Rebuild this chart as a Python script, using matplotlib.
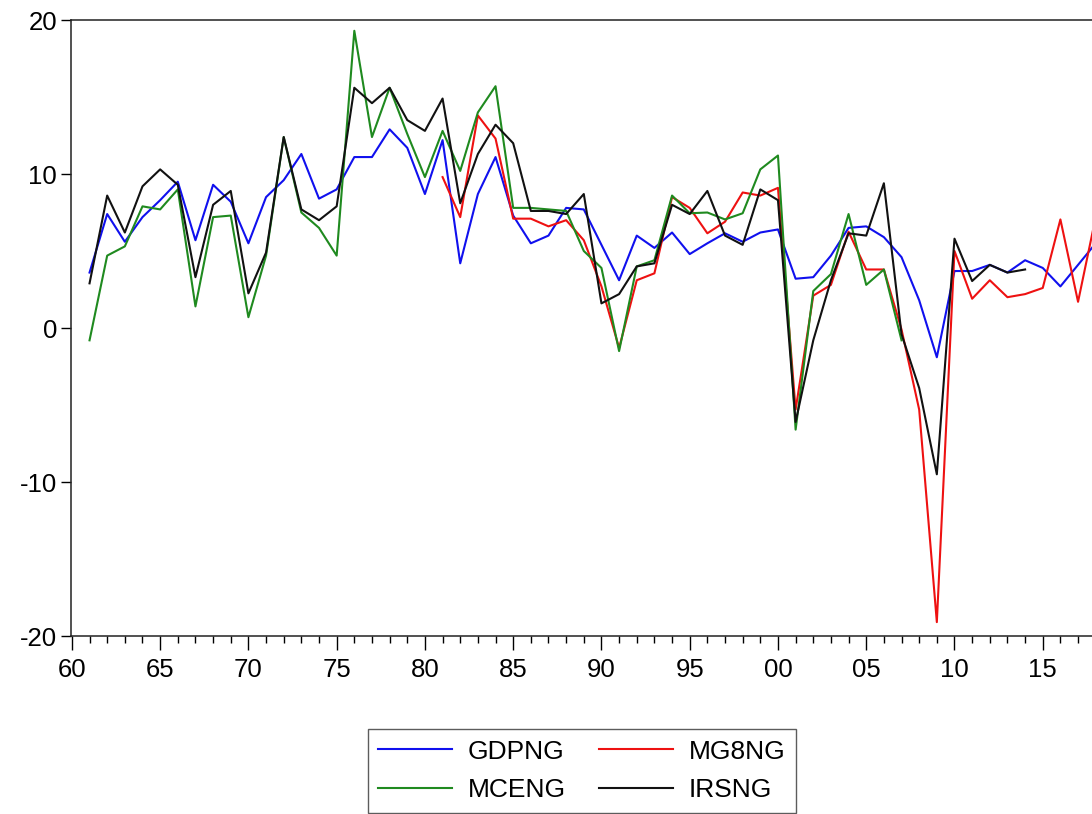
import numpy as np
import matplotlib
matplotlib.use("Agg")
import matplotlib.pyplot as plt
from matplotlib.ticker import MultipleLocator, FuncFormatter

plt.rcParams['font.family'] = ['Liberation Sans', 'DejaVu Sans']
plt.rcParams['axes.unicode_minus'] = False

# ---------------- data (annual growth, %) ----------------
years_gdp = list(range(1961, 2019))
gdpng = [3.6, 7.4, 5.6, 7.2, 8.3, 9.5, 5.7, 9.3, 8.2, 5.5,
         8.5, 9.6, 11.3, 8.4, 9.0, 11.1, 11.1, 12.9, 11.7, 8.7,
         12.2, 4.2, 8.7, 11.1, 7.3, 5.5, 6.0, 7.8, 7.7, 5.4,
         3.1, 6.0, 5.2, 6.2, 4.8, 5.5, 6.15, 5.6, 6.2, 6.4,
         3.2, 3.3, 4.7, 6.5, 6.6, 5.9, 4.6, 1.8, -1.9, 3.7,
         3.7, 4.1, 3.6, 4.4, 3.9, 2.7, 4.1, 5.5]

years_mg8 = list(range(1981, 2019))
mg8ng = [9.8, 7.2, 13.8, 12.3, 7.1, 7.1, 6.6, 7.0, 5.7, 2.7,
         -1.3, 3.1, 3.55, 8.5, 7.8, 6.15, 6.9, 8.8, 8.6, 9.1,
         -5.3, 2.1, 2.8, 6.25, 3.8, 3.8, -0.1, -5.3, -19.1, 5.0,
         1.9, 3.1, 2.0, 2.2, 2.6, 7.05, 1.7, 7.2]

years_mce = list(range(1961, 2008))
mceng = [-0.8, 4.7, 5.3, 7.9, 7.7, 9.0, 1.4, 7.2, 7.3, 0.7,
         4.7, 12.4, 7.5, 6.5, 4.7, 19.3, 12.4, 15.6, 12.6, 9.8,
         12.8, 10.2, 14.0, 15.7, 7.8, 7.8, 7.7, 7.6, 5.0, 3.9,
         -1.5, 4.0, 4.4, 8.6, 7.45, 7.5, 7.05, 7.45, 10.3, 11.2,
         -6.6, 2.4, 3.5, 7.4, 2.8, 3.8, -0.8]

years_irs = list(range(1961, 2015))
irsng = [2.9, 8.6, 6.2, 9.2, 10.3, 9.3, 3.3, 8.0, 8.9, 2.25,
         4.9, 12.4, 7.7, 7.0, 7.9, 15.6, 14.6, 15.6, 13.5, 12.8,
         14.9, 8.1, 11.3, 13.2, 12.0, 7.6, 7.6, 7.4, 8.7, 1.6,
         2.2, 4.0, 4.2, 8.0, 7.4, 8.9, 6.0, 5.4, 9.0, 8.3,
         -6.1, -0.8, 3.1, 6.15, 6.0, 9.4, -0.4, -3.9, -9.5, 5.8,
         3.05, 4.1, 3.6, 3.8]

# ---------------- figure ----------------
W, H = 1092, 814
fig = plt.figure(figsize=(W / 100, H / 100), dpi=100)
ax = fig.add_axes([71 / W, 1 - 636 / H, 1030 / W, 616 / H])

lw = 1.5
ax.plot(years_gdp, gdpng, color='#1010ee', lw=lw, label='GDPNG')
ax.plot(years_mg8, mg8ng, color='#ee1111', lw=lw, label='MG8NG')
ax.plot(years_mce, mceng, color='#1f8a1f', lw=lw, label='MCENG')
ax.plot(years_irs, irsng, color='#111111', lw=lw, label='IRSNG')

ax.set_xlim(1959.95, 2018.3)
ax.set_ylim(-20, 20)

ax.xaxis.set_major_locator(MultipleLocator(5))
ax.xaxis.set_minor_locator(MultipleLocator(1))
ax.xaxis.set_major_formatter(FuncFormatter(lambda x, pos: f"{int(round(x)) % 100:02d}"))
ax.yaxis.set_major_locator(MultipleLocator(10))

ax.tick_params(axis='x', which='major', direction='out', length=10, width=1.0, labelsize=18.5, pad=6)
ax.tick_params(axis='x', which='minor', direction='out', length=5, width=1.0)
ax.tick_params(axis='y', which='major', direction='out', length=7, width=1.0, labelsize=18.5, pad=3)

for s in ['left', 'top', 'bottom']:
    ax.spines[s].set_linewidth(1.1)
    ax.spines[s].set_color('#222222')
ax.spines['right'].set_visible(False)

handles, labels = ax.get_legend_handles_labels()
order = [0, 2, 1, 3]
leg = fig.legend([handles[i] for i in order], [labels[i] for i in order],
                 loc='upper center', bbox_to_anchor=(582 / W, 1 - 729 / H),
                 ncol=2, fontsize=19, frameon=True, fancybox=False,
                 handlelength=2.8, handletextpad=0.6, columnspacing=1.25,
                 labelspacing=0.55, borderpad=0.4, borderaxespad=0.0)
leg.get_frame().set_edgecolor('#333333')
leg.get_frame().set_linewidth(1.0)

fig.savefig('out.png', dpi=100)
